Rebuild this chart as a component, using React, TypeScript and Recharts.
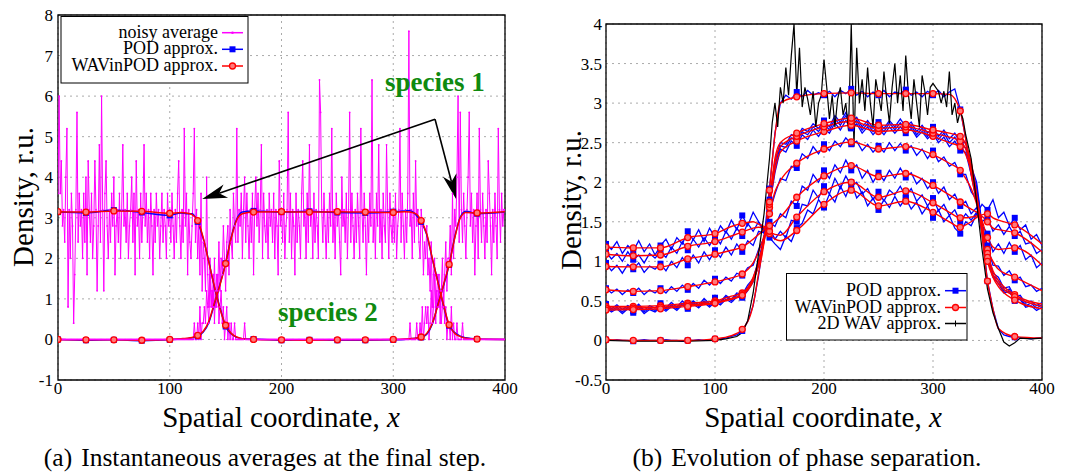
import React from "react";
import {
  LineChart,
  Line,
  XAxis,
  YAxis,
  CartesianGrid,
  ReferenceArea,
  ReferenceLine,
} from "recharts";

const SERIF = '"Liberation Serif", "Times New Roman", serif';
const MAGENTA = "#ff00ff";
const BLUE = "#0000ff";
const RED = "#ff0000";
const GREEN = "#0f8a0f";

const xTicks = [0, 100, 200, 300, 400];
const yTicksA = [-1, 0, 1, 2, 3, 4, 5, 6, 7, 8];
const yTicksB = [-0.5, 0, 0.5, 1, 1.5, 2, 2.5, 3, 3.5, 4];

// ---------- (a) instantaneous averages ----------
const noisyX = Array.from({ length: 401 }, (_, i) => i);

const noisySpecies1 = [
  3.6, 6.0, 3.6, 4.4, 2.8, 3.2, 2.4, 4.0, 5.2, 0.8, 3.2, 2.0, 3.6, 2.8, 0.4, 1.6, 3.2, 5.6, 2.4, 3.6,
  2.8, 3.2, 2.0, 3.6, 2.4, 4.0, 1.6, 4.4, 3.2, 2.4, 3.6, 2.0, 2.8, 4.4, 3.2, 1.2, 2.8, 4.8, 2.4, 6.0,
  3.2, 1.2, 3.6, 4.4, 2.8, 2.0, 3.2, 2.4, 3.6, 2.8, 4.0, 1.6, 2.8, 3.2, 2.4, 3.6, 2.0, 3.2, 4.8, 2.8,
  3.2, 2.4, 3.6, 2.0, 2.8, 3.2, 4.0, 2.4, 3.6, 1.6, 4.4, 2.8, 3.2, 2.0, 3.6, 2.4, 3.2, 4.8, 2.8, 3.6,
  2.4, 3.2, 2.0, 3.6, 2.8, 1.6, 3.2, 2.4, 3.6, 2.8, 3.2, 2.0, 2.8, 3.6, 2.4, 3.2, 2.8, 2.0, 3.6, 2.8,
  3.2, 2.4, 3.6, 2.8, 2.0, 3.2, 2.4, 3.6, 4.4, 2.8, 2.0, 3.2, 2.4, 5.2, 2.8, 3.6, 1.6, 3.2, 2.4, 2.0,
  2.8, 3.6, 5.2, 2.4, 3.2, 2.0, 2.8, 1.6, 3.6, 1.2, 2.4, 2.0, 1.2, 4.0, 1.6, 0.8, 2.0, 1.2, 0.8, 1.6,
  0.4, 1.2, 0.8, 1.6, 0.4, 0.8, 1.2, 0.4, 0.8, 0, 0.4, 0.8, 0, 0.4, 0, 0.4, 0, 0, 0.4, 0,
  0, 0, 0, 0, 0, 0, 0, 0.4, 0, 0, 0, 0, 0, 0, 0, 0, 0, 0, 0, 0,
  0, 0, 0, 0, 0, 0, 0, 0, 0, 0, 0, 0, 0, 0, 0, 0, 0, 0, 0, 0,
  0, 0, 0, 0, 0, 0, 0, 0, 0, 0, 0, 0, 0, 0, 0, 0, 0, 0, 0, 0,
  0, 0, 0, 0, 0, 0, 0, 0, 0, 0, 0, 0, 0, 0, 0, 0, 0, 0, 0, 0,
  0, 0, 0, 0, 0, 0, 0, 0, 0, 0, 0, 0, 0, 0, 0, 0, 0, 0, 0, 0,
  0, 0, 0, 0, 0, 0, 0, 0, 0, 0, 0, 0, 0, 0, 0, 0, 0, 0, 0, 0,
  0, 0, 0, 0, 0, 0, 0, 0, 0, 0, 0, 0, 0, 0, 0, 0, 0, 0, 0, 0,
  0, 0, 0, 0, 0, 0, 0, 0, 0, 0, 0, 0, 0, 0, 0, 0.4, 0, 0, 0, 0,
  0, 0.4, 0, 0, 0.4, 0, 0.8, 0, 0.4, 0.8, 0.4, 0.8, 0, 0.4, 1.2, 0.4, 0.8, 1.6, 0.4, 1.2,
  0.8, 1.6, 0.4, 1.2, 2.0, 0.8, 1.6, 2.4, 1.2, 2.0, 2.0, 2.8, 1.6, 3.6, 2.0, 3.2, 2.8, 4.0, 6.0, 2.4,
  5.6, 3.2, 2.4, 3.6, 2.8, 2.0, 3.2, 4.0, 5.6, 2.8, 3.6, 2.4, 3.2, 1.6, 2.8, 3.6, 2.0, 5.2, 3.2, 2.4,
  3.6, 2.8, 2.0, 3.2, 2.4, 4.4, 3.6, 2.8, 1.6, 3.2, 2.4, 3.6, 2.8, 2.0, 5.2, 3.2, 2.4, 3.6, 2.8, 3.2,
  3.2,
];

const noisySpecies2 = [
  0, 0, 0, 0, 0, 0, 0, 0, 0, 0, 0, 0, 0, 0, 0, 0, 0, 0, 0, 0,
  0, 0, 0, 0, 0, 0, 0, 0, 0, 0, 0, 0, 0, 0, 0, 0, 0, 0, 0, 0,
  0, 0, 0, 0, 0, 0, 0, 0, 0, 0, 0, 0, 0, 0, 0, 0, 0, 0, 0, 0,
  0, 0, 0, 0, 0, 0, 0, 0, 0, 0, 0, 0, 0, 0, 0, 0, 0, 0, 0, 0,
  0, 0, 0, 0, 0, 0, 0, 0, 0, 0, 0, 0, 0, 0, 0, 0, 0, 0, 0, 0,
  0, 0, 0, 0, 0, 0, 0, 0, 0, 0, 0, 0, 0, 0, 0, 0, 0, 0, 0, 0,
  0, 0, 0.4, 0, 0, 0.4, 0, 0.8, 0, 0.4, 0.4, 0.8, 0.4, 1.2, 0.8, 0.4, 1.6, 0.8, 1.2, 0.8,
  2.0, 0.8, 1.6, 1.2, 2.4, 1.2, 2.0, 1.6, 2.8, 2.0, 1.2, 2.4, 2.8, 1.6, 3.2, 2.4, 2.0, 3.6, 2.8, 2.4,
  5.2, 2.4, 3.2, 2.8, 3.6, 2.0, 3.2, 4.0, 2.4, 3.6, 2.8, 2.0, 3.2, 2.4, 3.6, 1.6, 3.2, 4.0, 2.8, 3.6,
  2.4, 3.2, 4.8, 2.0, 3.6, 2.8, 2.4, 3.2, 2.0, 3.6, 2.8, 3.2, 2.4, 3.6, 2.0, 3.2, 2.8, 1.6, 4.4, 2.8,
  3.2, 2.4, 3.6, 2.0, 2.8, 3.2, 5.6, 2.4, 3.6, 2.0, 3.2, 2.8, 1.6, 3.6, 2.4, 3.2, 2.8, 2.0, 3.6, 4.4,
  2.8, 3.2, 2.0, 3.6, 2.4, 4.8, 2.8, 3.2, 2.0, 3.6, 2.4, 3.2, 2.8, 2.0, 6.4, 5.6, 3.2, 2.4, 3.6, 2.8,
  2.0, 3.2, 2.4, 3.6, 2.8, 5.2, 2.4, 3.2, 2.0, 3.6, 2.8, 3.2, 2.4, 1.6, 4.0, 2.8, 3.2, 2.4, 3.6, 2.0,
  3.2, 5.6, 2.4, 3.6, 2.8, 2.0, 3.2, 2.4, 3.6, 2.8, 2.0, 5.2, 3.2, 2.4, 3.6, 2.8, 1.6, 3.2, 2.4, 3.6,
  2.8, 6.4, 2.4, 3.2, 2.0, 3.6, 2.8, 4.8, 2.4, 3.2, 2.0, 3.6, 2.8, 2.4, 4.8, 3.2, 2.0, 3.6, 2.8, 2.4,
  3.2, 2.4, 3.6, 2.0, 2.8, 3.2, 5.2, 2.4, 3.6, 2.8, 2.0, 3.2, 2.4, 3.6, 7.6, 2.8, 3.2, 2.0, 3.6, 2.4,
  4.4, 2.8, 3.2, 2.4, 2.0, 3.2, 2.8, 1.6, 2.4, 2.0, 2.8, 1.6, 2.0, 1.2, 2.4, 0.8, 1.6, 2.0, 0.8, 1.2,
  1.6, 0.8, 1.2, 0.4, 0.8, 1.2, 0.4, 0.8, 0, 0.4, 0.4, 0, 0.8, 0, 0.4, 0, 0, 0.4, 0, 0,
  0, 0, 0.4, 0, 0, 0, 0, 0, 0, 0, 0, 0, 0, 0, 0, 0, 0, 0, 0, 0,
  0, 0, 0, 0, 0, 0, 0, 0, 0, 0, 0, 0, 0, 0, 0, 0, 0, 0, 0, 0,
  0,
];

const approxAX = [
  0, 25, 50, 75, 100, 110, 115, 120, 125, 130, 135, 140, 145, 150, 155, 160, 165, 175,
  200, 225, 250, 275, 300, 310, 315, 320, 325, 330, 335, 340, 345, 350, 355, 360, 365, 375, 400,
];
const podSpecies1 = [
  3.14, 3.12, 3.19, 3.13, 3.06, 3.12, 3.1, 3.1, 2.9, 2.48, 1.92, 1.28, 0.78, 0.32, 0.14, 0.05, 0.02, 0.01,
  -0.02, -0.01, -0.02, -0.02, -0.01, 0.0, 0.02, 0.03, 0.05, 0.13, 0.38, 0.87, 1.33, 1.84, 2.52, 3.02, 3.16, 3.1, 3.14,
];
const podSpecies2 = [
  0.0, -0.02, -0.01, -0.03, -0.01, 0.01, 0.02, 0.04, 0.08, 0.18, 0.42, 0.88, 1.37, 1.88, 2.52, 2.97, 3.14, 3.17,
  3.14, 3.16, 3.13, 3.12, 3.15, 3.17, 3.18, 3.08, 2.9, 2.58, 1.98, 1.42, 0.83, 0.34, 0.17, 0.08, 0.04, 0.01, 0.0,
];
const wavSpecies1 = [
  3.15, 3.14, 3.17, 3.16, 3.11, 3.13, 3.12, 3.08, 2.93, 2.5, 1.9, 1.3, 0.75, 0.35, 0.15, 0.06, 0.02, 0.0,
  -0.01, -0.02, -0.01, -0.01, 0.0, 0.01, 0.02, 0.03, 0.06, 0.15, 0.4, 0.85, 1.35, 1.85, 2.5, 3.0, 3.13, 3.12, 3.15,
];
const wavSpecies2 = [
  0.0, -0.01, -0.01, -0.02, 0.0, 0.02, 0.03, 0.05, 0.1, 0.2, 0.45, 0.9, 1.35, 1.87, 2.5, 2.95, 3.1, 3.14,
  3.15, 3.14, 3.15, 3.14, 3.13, 3.15, 3.14, 3.1, 2.93, 2.6, 2.0, 1.4, 0.85, 0.36, 0.15, 0.07, 0.03, 0.01, 0.0,
];

// ---------- (b) evolution of phase separation ----------
const wavBX = [
  0, 25, 50, 75, 100, 115, 125, 135, 140, 147, 150, 155, 160, 175, 200,
  225, 250, 275, 300, 315, 325, 330, 335, 343, 350, 355, 360, 375, 400,
];
const wavStep1 = [1.18, 1.17, 1.17, 1.3, 1.35, 1.44, 1.48, 1.5, 1.47, 1.42, 1.35, 1.28, 1.26, 1.39, 1.72, 1.9, 1.7, 1.76, 1.62, 1.5, 1.43, 1.46, 1.5, 1.58, 1.6, 1.55, 1.52, 1.46, 1.22];
const wavStep2 = [1.09, 1.07, 1.08, 1.19, 1.25, 1.32, 1.37, 1.42, 1.43, 1.42, 1.38, 1.34, 1.33, 1.56, 1.88, 2.0, 1.81, 1.89, 1.74, 1.62, 1.55, 1.55, 1.56, 1.58, 1.5, 1.42, 1.4, 1.36, 1.12];
const wavStep3 = [0.935, 0.93, 0.93, 1.03, 1.09, 1.14, 1.18, 1.28, 1.34, 1.42, 1.45, 1.5, 1.56, 1.81, 2.08, 2.21, 2.07, 2.11, 1.96, 1.84, 1.75, 1.7, 1.66, 1.58, 1.3, 1.18, 1.15, 1.17, 0.95];
const wavStep4 = [0.64, 0.62, 0.63, 0.68, 0.74, 0.79, 0.84, 0.98, 1.12, 1.42, 1.6, 1.88, 2.02, 2.24, 2.42, 2.51, 2.42, 2.45, 2.35, 2.24, 2.15, 2.05, 1.92, 1.58, 1.15, 1.0, 0.9, 0.8, 0.63];
const wavStep5 = [0.43, 0.43, 0.44, 0.47, 0.5, 0.56, 0.6, 0.8, 1.0, 1.42, 1.68, 2.15, 2.38, 2.52, 2.64, 2.72, 2.64, 2.66, 2.58, 2.5, 2.45, 2.35, 2.15, 1.58, 1.1, 0.88, 0.76, 0.58, 0.46];
const wavStep6 = [0.41, 0.41, 0.42, 0.45, 0.48, 0.53, 0.58, 0.77, 0.97, 1.42, 1.72, 2.25, 2.45, 2.58, 2.7, 2.77, 2.68, 2.7, 2.62, 2.57, 2.52, 2.42, 2.2, 1.58, 1.05, 0.83, 0.72, 0.555, 0.43];
const wavStep7 = [0.385, 0.39, 0.4, 0.43, 0.47, 0.52, 0.57, 0.75, 0.95, 1.42, 1.75, 2.3, 2.5, 2.62, 2.74, 2.81, 2.72, 2.73, 2.66, 2.62, 2.58, 2.48, 2.25, 1.58, 1.0, 0.8, 0.68, 0.51, 0.4];
const wavStep8 = [0.01, 0, 0, 0, 0.02, 0.06, 0.14, 0.45, 0.85, 1.45, 1.9, 2.6, 3.0, 3.08, 3.12, 3.13, 3.12, 3.12, 3.12, 3.11, 2.9, 2.55, 2.1, 1.55, 0.75, 0.4, 0.15, 0.05, 0.03];

const podBX = Array.from({ length: 81 }, (_, i) => i * 5);
const podStep1 = [
  1.22, 1.15, 1.25, 1.1, 1.2, 1.13, 1.26, 1.12, 1.22, 1.08,
  1.2, 1.28, 1.15, 1.3, 1.22, 1.38, 1.27, 1.4, 1.25, 1.42,
  1.3, 1.45, 1.36, 1.52, 1.4, 1.58, 1.45, 1.62, 1.5, 1.4,
  1.3, 1.22, 1.15, 1.32, 1.25, 1.42, 1.48, 1.65, 1.6, 1.78,
  1.68, 1.85, 1.75, 1.95, 1.82, 2.0, 1.8, 1.88, 1.7, 1.8,
  1.65, 1.78, 1.68, 1.82, 1.7, 1.8, 1.66, 1.75, 1.6, 1.7,
  1.55, 1.65, 1.5, 1.58, 1.42, 1.35, 1.5, 1.45, 1.6, 1.72,
  1.65, 1.78, 1.55, 1.62, 1.45, 1.55, 1.4, 1.46, 1.28, 1.34,
  1.2,
];
const podStep2 = [
  1.12, 1.03, 1.1, 1.0, 1.12, 1.02, 1.08, 0.98, 1.1, 1.04,
  1.12, 1.05, 1.18, 1.1, 1.25, 1.14, 1.28, 1.18, 1.3, 1.2,
  1.32, 1.22, 1.38, 1.28, 1.42, 1.32, 1.48, 1.38, 1.5, 1.36,
  1.42, 1.28, 1.38, 1.3, 1.52, 1.5, 1.72, 1.7, 1.9, 1.8,
  1.95, 1.85, 2.05, 1.92, 2.08, 1.95, 2.0, 1.85, 1.92, 1.78,
  1.88, 1.76, 1.9, 1.84, 1.95, 1.82, 1.92, 1.76, 1.84, 1.7,
  1.8, 1.64, 1.72, 1.58, 1.65, 1.5, 1.6, 1.52, 1.62, 1.5,
  1.56, 1.38, 1.46, 1.34, 1.44, 1.32, 1.38, 1.22, 1.24, 1.1,
  1.15,
];
const podStep3 = [
  0.98, 0.88, 0.95, 0.85, 0.96, 0.9, 0.98, 0.86, 0.94, 0.9,
  0.97, 0.88, 1.0, 0.92, 1.05, 0.95, 1.08, 0.98, 1.12, 1.02,
  1.14, 1.05, 1.18, 1.08, 1.22, 1.12, 1.26, 1.2, 1.38, 1.36,
  1.5, 1.44, 1.6, 1.55, 1.76, 1.7, 1.95, 1.9, 2.1, 2.0,
  2.15, 2.05, 2.22, 2.12, 2.28, 2.15, 2.22, 2.05, 2.15, 2.0,
  2.12, 2.02, 2.15, 2.05, 2.18, 2.06, 2.12, 1.98, 2.05, 1.92,
  2.0, 1.86, 1.94, 1.78, 1.85, 1.7, 1.76, 1.6, 1.68, 1.45,
  1.35, 1.12, 1.22, 1.1, 1.24, 1.12, 1.2, 1.02, 1.08, 0.92,
  0.98,
];
const podStep4 = [
  0.66, 0.6, 0.65, 0.58, 0.64, 0.6, 0.66, 0.58, 0.64, 0.6,
  0.66, 0.6, 0.68, 0.62, 0.7, 0.64, 0.72, 0.66, 0.76, 0.7,
  0.78, 0.72, 0.8, 0.75, 0.85, 0.82, 0.92, 0.95, 1.15, 1.3,
  1.62, 1.85, 2.05, 2.02, 2.2, 2.18, 2.36, 2.3, 2.45, 2.36,
  2.48, 2.4, 2.52, 2.45, 2.56, 2.48, 2.52, 2.4, 2.48, 2.38,
  2.46, 2.38, 2.5, 2.4, 2.49, 2.4, 2.46, 2.34, 2.42, 2.3,
  2.4, 2.26, 2.32, 2.2, 2.25, 2.1, 2.1, 1.88, 1.78, 1.45,
  1.2, 0.95, 0.94, 0.82, 0.88, 0.76, 0.8, 0.68, 0.7, 0.62,
  0.66,
];
const podStep5 = [
  0.46, 0.4, 0.45, 0.39, 0.44, 0.4, 0.46, 0.38, 0.44, 0.41,
  0.47, 0.41, 0.48, 0.42, 0.5, 0.44, 0.5, 0.45, 0.53, 0.46,
  0.54, 0.49, 0.57, 0.52, 0.6, 0.58, 0.7, 0.78, 1.02, 1.28,
  1.7, 2.12, 2.42, 2.38, 2.52, 2.46, 2.6, 2.54, 2.66, 2.58,
  2.68, 2.62, 2.75, 2.66, 2.78, 2.68, 2.74, 2.62, 2.7, 2.6,
  2.68, 2.6, 2.7, 2.62, 2.7, 2.62, 2.68, 2.57, 2.64, 2.55,
  2.62, 2.5, 2.57, 2.45, 2.52, 2.4, 2.38, 2.1, 1.92, 1.42,
  1.12, 0.85, 0.8, 0.66, 0.68, 0.55, 0.57, 0.47, 0.5, 0.44,
  0.48,
];
const podStep6 = [
  0.43, 0.38, 0.42, 0.36, 0.42, 0.37, 0.44, 0.36, 0.41, 0.38,
  0.44, 0.39, 0.45, 0.4, 0.47, 0.42, 0.48, 0.43, 0.5, 0.44,
  0.51, 0.47, 0.55, 0.5, 0.58, 0.56, 0.66, 0.76, 0.98, 1.3,
  1.74, 2.2, 2.46, 2.44, 2.56, 2.52, 2.64, 2.6, 2.7, 2.64,
  2.74, 2.66, 2.8, 2.72, 2.84, 2.72, 2.78, 2.66, 2.74, 2.64,
  2.72, 2.64, 2.75, 2.66, 2.75, 2.66, 2.72, 2.6, 2.68, 2.58,
  2.66, 2.54, 2.62, 2.5, 2.57, 2.46, 2.44, 2.16, 1.95, 1.44,
  1.08, 0.82, 0.76, 0.62, 0.65, 0.52, 0.54, 0.44, 0.47, 0.41,
  0.45,
];
const podStep7 = [
  0.41, 0.36, 0.4, 0.34, 0.4, 0.35, 0.42, 0.34, 0.39, 0.36,
  0.42, 0.37, 0.43, 0.38, 0.45, 0.4, 0.46, 0.41, 0.48, 0.42,
  0.49, 0.45, 0.52, 0.48, 0.55, 0.54, 0.63, 0.74, 0.95, 1.28,
  1.78, 2.26, 2.5, 2.48, 2.6, 2.56, 2.68, 2.64, 2.74, 2.68,
  2.78, 2.7, 2.84, 2.76, 2.88, 2.76, 2.82, 2.7, 2.78, 2.68,
  2.76, 2.68, 2.78, 2.7, 2.8, 2.7, 2.76, 2.64, 2.72, 2.62,
  2.7, 2.58, 2.66, 2.55, 2.62, 2.5, 2.5, 2.2, 2.0, 1.46,
  1.02, 0.8, 0.72, 0.6, 0.62, 0.5, 0.52, 0.42, 0.44, 0.38,
  0.42,
];
const podStep8 = [
  0.01, 0, 0.01, 0, 0, -0.01, 0, 0.01, 0, 0,
  0, 0.01, 0, 0, -0.01, 0, 0, 0.01, 0, 0.01,
  0.02, 0.02, 0.03, 0.05, 0.07, 0.12, 0.24, 0.44, 0.82, 1.3,
  1.92, 2.62, 3.0, 3.1, 3.05, 3.14, 3.08, 3.16, 3.1, 3.13,
  3.1, 3.15, 3.08, 3.16, 3.12, 3.18, 3.1, 3.15, 3.08, 3.14,
  3.1, 3.16, 3.08, 3.14, 3.12, 3.17, 3.1, 3.14, 3.08, 3.15,
  3.1, 3.16, 3.08, 3.14, 3.18, 2.92, 2.55, 2.1, 1.75, 1.35,
  0.75, 0.4, 0.15, 0.07, 0.05, 0.04, 0.03, 0.03, 0.02, 0.03,
  0.03,
];

// 2D WAV approximation of the final step: [x, density]
const wav2dFinal: [number, number][] = [
  [0, 0], [25, -0.01], [50, -0.01], [75, -0.01], [100, 0.0], [110, 0.02], [120, 0.05], [125, 0.1],
  [130, 0.25], [135, 0.6], [140, 1.1], [145, 1.6], [150, 2.3], [152.5, 2.75], [155, 3.0], [157.5, 2.7],
  [160, 3.2], [162.5, 3.0], [165, 3.45], [167.5, 3.1], [170, 3.6], [172.5, 4.0], [175, 3.1], [177.5, 3.7],
  [180, 2.95], [182.5, 3.2], [185, 3.05], [187.5, 2.85], [190, 3.15], [192.5, 2.7], [195, 3.0], [197.5, 3.1],
  [200, 3.55], [202.5, 3.2], [205, 2.8], [207.5, 3.1], [210, 2.7], [212.5, 3.05], [215, 3.2], [217.5, 2.85],
  [220, 3.0], [222.5, 2.65], [225, 4.0], [227.5, 2.45], [230, 3.7], [232.5, 3.0], [235, 3.3], [237.5, 2.9],
  [240, 3.45], [242.5, 3.0], [245, 2.7], [247.5, 3.3], [250, 3.1], [252.5, 2.9], [255, 3.4], [257.5, 3.05],
  [260, 2.75], [262.5, 3.2], [265, 3.5], [267.5, 3.0], [270, 3.35], [272.5, 2.9], [275, 3.6], [277.5, 3.1],
  [280, 2.8], [282.5, 3.3], [285, 3.0], [287.5, 2.7], [290, 3.35], [292.5, 3.15], [295, 2.85], [297.5, 3.2],
  [300, 3.25], [302.5, 3.2], [305, 3.15], [307.5, 3.0], [310, 3.15], [312.5, 2.95], [315, 3.4], [317.5, 2.85],
  [320, 3.0], [322.5, 2.75], [325, 2.9], [327.5, 2.8], [330, 2.6], [335, 2.3], [340, 1.75], [345, 1.15],
  [350, 0.65], [355, 0.35], [360, 0.15], [365, -0.02], [370, -0.07], [375, -0.03], [380, 0.03], [390, 0.02],
  [400, 0.03],
];

const pts = (xs: number[], ys: number[]) => xs.map((x, i) => ({ x, y: ys[i] }));
const marked = (x: number) => x % 25 === 0 && x < 400;

const squareDot = (p: any) =>
  marked(p.payload.x) ? (
    <rect key={`q${p.index}`} x={p.cx - 3} y={p.cy - 3} width={6} height={6} fill={BLUE} />
  ) : (
    <g key={`q${p.index}`} />
  );

const circleDot = (p: any) =>
  marked(p.payload.x) ? (
    <circle key={`c${p.index}`} cx={p.cx} cy={p.cy} r={3} fill="#ff7a7a" stroke={RED} strokeWidth={1.3} />
  ) : (
    <g key={`c${p.index}`} />
  );

const arrowShape = (p: any) => {
  const { x1, y1, x2, y2 } = p;
  const dx = x2 - x1;
  const dy = y2 - y1;
  const len = Math.hypot(dx, dy) || 1;
  const ux = dx / len;
  const uy = dy / len;
  const nx = -uy;
  const ny = ux;
  const bx = x2 - ux * 25;
  const by = y2 - uy * 25;
  const mx = x2 - ux * 18;
  const my = y2 - uy * 18;
  return (
    <g>
      <line x1={x1} y1={y1} x2={mx} y2={my} stroke="#000" strokeWidth={1.6} />
      <polygon
        points={`${x2},${y2} ${bx + nx * 7},${by + ny * 7} ${mx},${my} ${bx - nx * 7},${by - ny * 7}`}
        fill="#000"
      />
    </g>
  );
};

const tick = { fontSize: 17, fill: "#000", fontFamily: SERIF };

const podSteps = [podStep1, podStep2, podStep3, podStep4, podStep5, podStep6, podStep7, podStep8];
const wavSteps = [wavStep1, wavStep2, wavStep3, wavStep4, wavStep5, wavStep6, wavStep7, wavStep8];

function PanelA() {
  return (
    <LineChart width={520} height={400} margin={{ top: 15, right: 15, bottom: 0, left: 0 }}>
      <CartesianGrid stroke="#aaaaaa" strokeDasharray="2 4" />
      <XAxis
        dataKey="x"
        type="number"
        domain={[0, 400]}
        ticks={xTicks}
        height={20}
        tickLine={false}
        axisLine={false}
        tickSize={0}
        tickMargin={2}
        tick={tick}
        allowDataOverflow
      />
      <YAxis
        type="number"
        domain={[-1, 8]}
        ticks={yTicksA}
        width={58}
        tickLine={false}
        axisLine={false}
        tickSize={0}
        tickMargin={5}
        tick={tick}
        allowDataOverflow
      />
      <ReferenceArea x1={0} x2={400} y1={-1} y2={8} fill="none" stroke="#000" strokeWidth={1.3} />
      <Line data={pts(noisyX, noisySpecies1)} dataKey="y" type="linear" stroke={MAGENTA} strokeWidth={1}
        dot={{ r: 0.9, fill: MAGENTA, stroke: "none" }} activeDot={false} isAnimationActive={false} />
      <Line data={pts(noisyX, noisySpecies2)} dataKey="y" type="linear" stroke={MAGENTA} strokeWidth={1}
        dot={{ r: 0.9, fill: MAGENTA, stroke: "none" }} activeDot={false} isAnimationActive={false} />
      <Line data={pts(approxAX, podSpecies1)} dataKey="y" type="monotone" stroke={BLUE} strokeWidth={1.5}
        dot={squareDot} activeDot={false} isAnimationActive={false} />
      <Line data={pts(approxAX, podSpecies2)} dataKey="y" type="monotone" stroke={BLUE} strokeWidth={1.5}
        dot={squareDot} activeDot={false} isAnimationActive={false} />
      <Line data={pts(approxAX, wavSpecies1)} dataKey="y" type="monotone" stroke={RED} strokeWidth={1.5}
        dot={circleDot} activeDot={false} isAnimationActive={false} />
      <Line data={pts(approxAX, wavSpecies2)} dataKey="y" type="monotone" stroke={RED} strokeWidth={1.5}
        dot={circleDot} activeDot={false} isAnimationActive={false} />
      <ReferenceLine segment={[{ x: 337.4, y: 5.43 }, { x: 129, y: 3.46 }]} shape={arrowShape} />
      <ReferenceLine segment={[{ x: 337.4, y: 5.43 }, { x: 356.2, y: 3.46 }]} shape={arrowShape} />
    </LineChart>
  );
}

function PanelB() {
  return (
    <LineChart width={528} height={400} margin={{ top: 24, right: 26, bottom: 0, left: 0 }}>
      <CartesianGrid stroke="#aaaaaa" strokeDasharray="2 4" />
      <XAxis
        dataKey="x"
        type="number"
        domain={[0, 400]}
        ticks={xTicks}
        height={20}
        tickLine={false}
        axisLine={false}
        tickSize={0}
        tickMargin={2}
        tick={tick}
        allowDataOverflow
      />
      <YAxis
        type="number"
        domain={[-0.5, 4]}
        ticks={yTicksB}
        width={66}
        tickLine={false}
        axisLine={false}
        tickSize={0}
        tickMargin={4}
        tick={tick}
        allowDataOverflow
      />
      <ReferenceArea x1={0} x2={400} y1={-0.5} y2={4} fill="none" stroke="#000" strokeWidth={1.3} />
      {podSteps.map((s, i) => (
        <Line key={`pod${i}`} data={pts(podBX, s)} dataKey="y" type="linear" stroke={BLUE} strokeWidth={1.3}
          dot={squareDot} activeDot={false} isAnimationActive={false} />
      ))}
      {wavSteps.map((s, i) => (
        <Line key={`wav${i}`} data={pts(wavBX, s)} dataKey="y" type="monotone" stroke={RED} strokeWidth={1.4}
          dot={circleDot} activeDot={false} isAnimationActive={false} />
      ))}
      <Line data={wav2dFinal.map(([x, y]) => ({ x, y }))} dataKey="y" type="linear" stroke="#000" strokeWidth={1.2}
        dot={false} activeDot={false} isAnimationActive={false} />
    </LineChart>
  );
}

function LegendRow({ x, y, label, color, marker }: { x: number; y: number; label: string; color: string; marker: string }) {
  const mx = x + 10.5;
  return (
    <g>
      <text x={x - 4} y={y + 5} textAnchor="end" fontSize={18} fontFamily={SERIF} fill="#000">{label}</text>
      <line x1={x} y1={y} x2={x + 21} y2={y} stroke={color} strokeWidth={1.5} />
      {marker === "dot" && <circle cx={mx} cy={y} r={1.3} fill={color} />}
      {marker === "square" && <rect x={mx - 3} y={y - 3} width={6} height={6} fill={color} />}
      {marker === "circle" && <circle cx={mx} cy={y} r={3} fill="#ff7a7a" stroke={color} strokeWidth={1.3} />}
      {marker === "plus" && <path d={`M${mx - 3},${y}h6M${mx},${y - 3}v6`} stroke={color} strokeWidth={1} />}
    </g>
  );
}

function Overlay() {
  return (
    <svg width={1068} height={476} style={{ position: "absolute", left: 0, top: 0, pointerEvents: "none" }}>
      {/* legend (a) */}
      <rect x={61} y={16.5} width={187} height={66.5} fill="#fff" stroke="#000" strokeWidth={1} />
      <LegendRow x={222} y={32.7} label="noisy average" color={MAGENTA} marker="dot" />
      <LegendRow x={222} y={49.3} label="POD approx." color={BLUE} marker="square" />
      <LegendRow x={222} y={66} label="WAVinPOD approx." color={RED} marker="circle" />
      {/* legend (b) */}
      <rect x={786.5} y={273.5} width={180.5} height={66.5} fill="#fff" stroke="#000" strokeWidth={1} />
      <LegendRow x={945} y={290.7} label="POD approx." color={BLUE} marker="square" />
      <LegendRow x={945} y={307.5} label="WAVinPOD approx." color={RED} marker="circle" />
      <LegendRow x={945} y={323.5} label="2D WAV approx." color="#000" marker="plus" />

      {/* annotations (a) */}
      <text x={385} y={91} fontSize={27} fontWeight="bold" fontFamily={SERIF} fill={GREEN}>species 1</text>
      <text x={278} y={321} fontSize={27} fontWeight="bold" fontFamily={SERIF} fill={GREEN}>species 2</text>

      {/* axis titles */}
      <text transform="translate(33,197) rotate(-90)" textAnchor="middle" fontSize={29} fontFamily={SERIF} fill="#000">Density, r.u.</text>
      <text transform="translate(581,200) rotate(-90)" textAnchor="middle" fontSize={29} fontFamily={SERIF} fill="#000">Density, r.u.</text>
      <text x={281} y={427} textAnchor="middle" fontSize={29} fontFamily={SERIF} fill="#000">
        Spatial coordinate, <tspan fontStyle="italic">x</tspan>
      </text>
      <text x={823} y={427} textAnchor="middle" fontSize={29} fontFamily={SERIF} fill="#000">
        Spatial coordinate, <tspan fontStyle="italic">x</tspan>
      </text>

      {/* captions */}
      <text x={265} y={466} textAnchor="middle" fontSize={25.5} fontFamily={SERIF} fill="#000">
        (a)<tspan dx={9}>Instantaneous averages at the final step.</tspan>
      </text>
      <text x={807} y={466} textAnchor="middle" fontSize={25.5} fontFamily={SERIF} fill="#000">
        (b)<tspan dx={9}>Evolution of phase separation.</tspan>
      </text>
    </svg>
  );
}

export default function App() {
  return (
    <div style={{ position: "absolute", left: 0, top: 0, width: 1068, height: 476, background: "#fff", fontFamily: SERIF }}>
      <div style={{ position: "absolute", left: 0, top: 0 }}>
        <PanelA />
      </div>
      <div style={{ position: "absolute", left: 540, top: 0 }}>
        <PanelB />
      </div>
      <Overlay />
    </div>
  );
}
